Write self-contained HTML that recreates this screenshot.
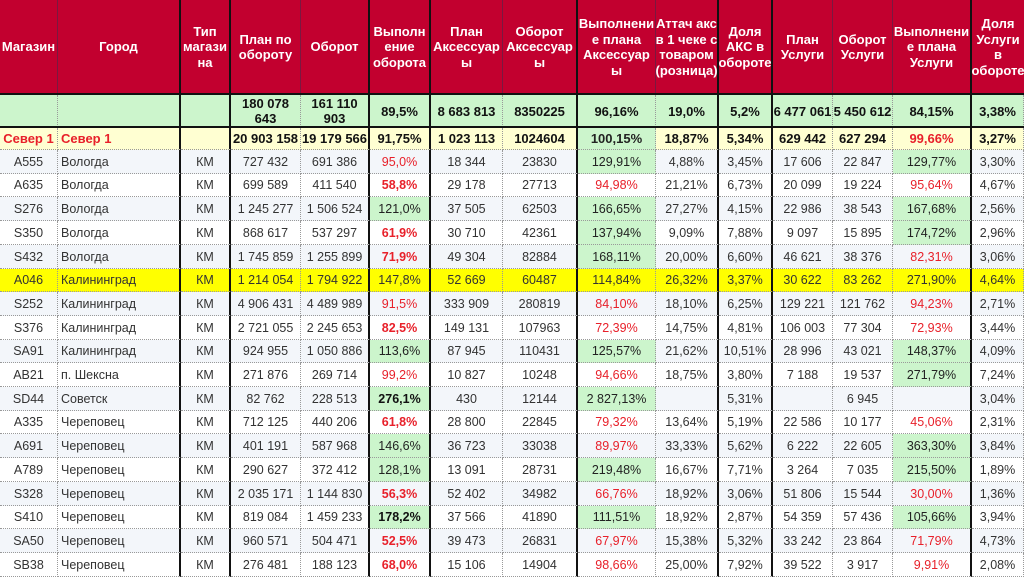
<!DOCTYPE html>
<html><head><meta charset="utf-8"><style>
body{margin:0;width:1024px;height:574px;overflow:hidden;background:#fff;font-family:"Liberation Sans",sans-serif;position:relative}
.c{position:absolute;box-sizing:border-box;display:flex;align-items:center;justify-content:center;text-align:center;font-size:12.5px;color:#333;white-space:nowrap;border-right:1px dotted #999;border-bottom:1px dotted #999}
.h{background:#c2002f;color:#fff;font-weight:bold;font-size:13px;line-height:15.5px;white-space:normal;border-right:1px solid #7a1840;border-bottom:none;padding:0 1px}
.tk{border-right:2px solid #111}
</style></head><body>
<div id="t"></div>
<script>
const colX=[0,58,181,231,301,370,431,503,578,656,719,773,833,893,972,1024];
const thick=[1,2,4,5,7,9,10,13];
const headers=["Магазин","Город","Тип магази на","План по обороту","Оборот","Выполн ение оборота","План Аксессуар ы","Оборот Аксессуар ы","Выполнени е плана Аксессуар ы","Аттач акс в 1 чеке с товаром (розница)","Доля АКС в обороте","План Услуги","Оборот Услуги","Выполнени е плана Услуги","Доля Услуги в обороте"];
const totalRow=["","","","180 078 643","161 110 903","89,5%","8 683 813","8350225","96,16%","19,0%","5,2%","6 477 061","5 450 612","84,15%","3,38%"];
const regionRow=["R:Север 1","R:Север 1","","20 903 158","19 179 566","91,75%","1 023 113","1024604","g:100,15%","18,87%","5,34%","629 442","627 294","R:99,66%","3,27%"];
const rows=[
["A555","Вологда","КМ","727 432","691 386","r:95,0%","18 344","23830","g:129,91%","4,88%","3,45%","17 606","22 847","g:129,77%","3,30%"],
["A635","Вологда","КМ","699 589","411 540","R:58,8%","29 178","27713","r:94,98%","21,21%","6,73%","20 099","19 224","r:95,64%","4,67%"],
["S276","Вологда","КМ","1 245 277","1 506 524","g:121,0%","37 505","62503","g:166,65%","27,27%","4,15%","22 986","38 543","g:167,68%","2,56%"],
["S350","Вологда","КМ","868 617","537 297","R:61,9%","30 710","42361","g:137,94%","9,09%","7,88%","9 097","15 895","g:174,72%","2,96%"],
["S432","Вологда","КМ","1 745 859","1 255 899","R:71,9%","49 304","82884","g:168,11%","20,00%","6,60%","46 621","38 376","r:82,31%","3,06%"],
["A046","Калининград","КМ","1 214 054","1 794 922","147,8%","52 669","60487","114,84%","26,32%","3,37%","30 622","83 262","271,90%","4,64%"],
["S252","Калининград","КМ","4 906 431","4 489 989","r:91,5%","333 909","280819","r:84,10%","18,10%","6,25%","129 221","121 762","r:94,23%","2,71%"],
["S376","Калининград","КМ","2 721 055","2 245 653","R:82,5%","149 131","107963","r:72,39%","14,75%","4,81%","106 003","77 304","r:72,93%","3,44%"],
["SA91","Калининград","КМ","924 955","1 050 886","g:113,6%","87 945","110431","g:125,57%","21,62%","10,51%","28 996","43 021","g:148,37%","4,09%"],
["AB21","п. Шексна","КМ","271 876","269 714","r:99,2%","10 827","10248","r:94,66%","18,75%","3,80%","7 188","19 537","g:271,79%","7,24%"],
["SD44","Советск","КМ","82 762","228 513","G:276,1%","430","12144","g:2 827,13%","","5,31%","","6 945","","3,04%"],
["A335","Череповец","КМ","712 125","440 206","R:61,8%","28 800","22845","r:79,32%","13,64%","5,19%","22 586","10 177","r:45,06%","2,31%"],
["A691","Череповец","КМ","401 191","587 968","g:146,6%","36 723","33038","r:89,97%","33,33%","5,62%","6 222","22 605","g:363,30%","3,84%"],
["A789","Череповец","КМ","290 627","372 412","g:128,1%","13 091","28731","g:219,48%","16,67%","7,71%","3 264","7 035","g:215,50%","1,89%"],
["S328","Череповец","КМ","2 035 171","1 144 830","R:56,3%","52 402","34982","r:66,76%","18,92%","3,06%","51 806","15 544","r:30,00%","1,36%"],
["S410","Череповец","КМ","819 084","1 459 233","G:178,2%","37 566","41890","g:111,51%","18,92%","2,87%","54 359","57 436","g:105,66%","3,94%"],
["SA50","Череповец","КМ","960 571","504 471","R:52,5%","39 473","26831","r:67,97%","15,38%","5,32%","33 242","23 864","r:71,79%","4,73%"],
["SB38","Череповец","КМ","276 481","188 123","R:68,0%","15 106","14904","r:98,66%","25,00%","7,92%","39 522","3 917","r:9,91%","2,08%"]
];
const T=document.getElementById('t');
function cell(i,y,h,txt,bg,cls,extra){
  const d=document.createElement('div');
  
  
  d.className='c '+(cls||'')+(thick.includes(i)?' tk':'');
  let s=txt,color=null,bold=false,cbg=bg;
  if(/^[rRgG]:/.test(s)){const p=s[0];s=s.slice(2);
    if(p==='r'){color='#e8202a';}
    if(p==='R'){color='#e8202a';bold=true;}
    if(p==='g'){cbg='#ccf5cc';color='#222';}
    if(p==='G'){cbg='#ccf5cc';color='#111';bold=true;}}
  d.style.cssText+=`left:${colX[i]}px;top:${y}px;width:${colX[i+1]-colX[i]}px;height:${h}px;background:${cbg};`+(extra||'');
  if(color)d.style.color=color;
  if(bold)d.style.fontWeight='bold';
  if(i===1&&!cls)d.style.justifyContent='flex-start',d.style.paddingLeft='3px';
  d.textContent=s;T.appendChild(d);
}
headers.forEach((t,i)=>cell(i,0,94,t,'#c2002f','h',(i===14?'border-right:none;':'')));
const line=(y,h)=>{const d=document.createElement('div');d.style.cssText=`position:absolute;left:0;width:1024px;top:${y}px;height:${h}px;background:#111`;T.appendChild(d);};
totalRow.forEach((t,i)=>cell(i,95,32,t,'#ccf5cc','','font-weight:bold;color:#111;font-size:13px;line-height:15px;white-space:normal;border-bottom:none;'));
regionRow.forEach((t,i)=>cell(i,128,22,t,'#ffffd2','','font-weight:bold;color:#111;font-size:13px;'+(i===1?'justify-content:flex-start;padding-left:3px;':'')));
const rh=23.7;
rows.forEach((r,k)=>{const y=150+k*rh;const yellow=r[0]==='A046';
  const bg=yellow?'#ffff00':(k%2===0?'#f3f6fa':'#ffffff');
  r.forEach((t,i)=>cell(i,Math.round(y),Math.round(y+rh)-Math.round(y),t,bg,'',yellow?'color:#333;':''));});
line(93,2);line(126,2);
</script>
</body></html>
